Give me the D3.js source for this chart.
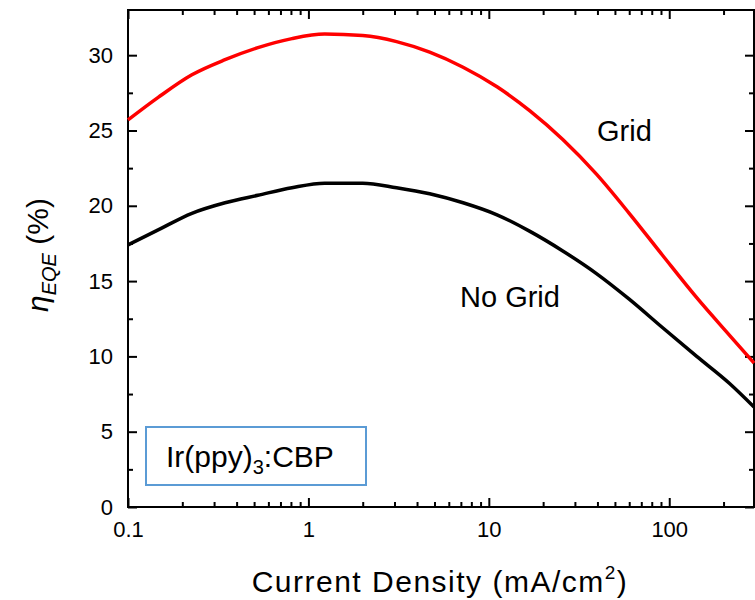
<!DOCTYPE html>
<head>
    <meta charset="utf-8">
    <title>EQE vs Current Density</title>
    <script src="https://d3js.org/d3.v7.min.js"></script>
    <style>
        body { margin: 0; background: #fff; }
        text { font-family: Arial, "Liberation Sans", sans-serif; fill: #000; }
    </style>
</head>
<body>
    <svg class="chart" width="755" height="600"></svg>
    <script>
        // values (current density in mA/cm2, EQE in %)
        var density = [0.1, 0.147, 0.226, 0.345, 0.525, 0.81, 1.23, 2.0, 3.08, 4.7, 7.2, 11.1, 16.9, 25.7, 39.5, 60, 92, 142, 216, 295];
        var gridEqe = [25.7, 27.2, 28.7, 29.7, 30.5, 31.1, 31.4, 31.3, 30.9, 30.2, 29.2, 27.9, 26.3, 24.4, 22.1, 19.5, 16.7, 13.9, 11.4, 9.56];
        var noGridEqe = [17.4, 18.4, 19.5, 20.2, 20.7, 21.2, 21.5, 21.5, 21.2, 20.8, 20.2, 19.4, 18.3, 17.0, 15.5, 13.8, 11.9, 10.0, 8.2, 6.64];
        var xMajor = [0.1, 1, 10, 100];
        var xTickLabels = ["0.1", "1", "10", "100"];
        var yMajor = [0, 5, 10, 15, 20, 25, 30];
        var yMinor = [2.5, 7.5, 12.5, 17.5, 22.5, 27.5];

        // plot box (window.top is read-only, so own names here)
        var plotLeft = 128, plotRight = 754, plotTop = 10, plotBottom = 507;
        var x = d3.scaleLog().domain([0.1, 295]).range([plotLeft, plotRight]);
        var y = d3.scaleLinear().domain([0, 33]).range([plotBottom, plotTop]);

        var xMinor = [];
        xMajor.forEach(function(d){
            for (var k = 2; k <= 9; k++) { if (k * d <= 295) xMinor.push(k * d); }
        });

        var svg = d3.select("svg");

        function styleAxis(g) {
            g.select(".domain").remove();
            g.selectAll("line").attr("stroke", "#000").attr("stroke-width", 2);
            g.selectAll("text").style("font-size", "22px").attr("fill", "#000");
        }

        // bottom axis
        svg.append("g").attr("transform", "translate(0," + plotBottom + ")")
            .call(d3.axisBottom(x).tickValues(xMajor).tickSize(-9).tickPadding(14)
                .tickFormat(function(d, i){ return xTickLabels[i]; }))
            .call(styleAxis);
        svg.append("g").attr("transform", "translate(0," + plotBottom + ")")
            .call(d3.axisBottom(x).tickValues(xMinor).tickSize(-5).tickFormat(""))
            .call(styleAxis);
        // top axis
        svg.append("g").attr("transform", "translate(0," + plotTop + ")")
            .call(d3.axisTop(x).tickValues(xMajor).tickSize(-9).tickFormat(""))
            .call(styleAxis);
        svg.append("g").attr("transform", "translate(0," + plotTop + ")")
            .call(d3.axisTop(x).tickValues(xMinor).tickSize(-5).tickFormat(""))
            .call(styleAxis);
        // left axis
        svg.append("g").attr("transform", "translate(" + plotLeft + ",0)")
            .call(d3.axisLeft(y).tickValues(yMajor).tickSize(-9).tickPadding(15))
            .call(styleAxis);
        svg.append("g").attr("transform", "translate(" + plotLeft + ",0)")
            .call(d3.axisLeft(y).tickValues(yMinor).tickSize(-5).tickFormat(""))
            .call(styleAxis);
        // right axis
        svg.append("g").attr("transform", "translate(" + plotRight + ",0)")
            .call(d3.axisRight(y).tickValues(yMajor).tickSize(-9).tickFormat(""))
            .call(styleAxis);
        svg.append("g").attr("transform", "translate(" + plotRight + ",0)")
            .call(d3.axisRight(y).tickValues(yMinor).tickSize(-5).tickFormat(""))
            .call(styleAxis);

        // frame
        svg.append("rect")
            .attr("x", plotLeft).attr("y", plotTop)
            .attr("width", plotRight - plotLeft).attr("height", plotBottom - plotTop)
            .attr("fill", "none").attr("stroke", "#000").attr("stroke-width", 2);

        // curves
        var line = d3.line()
            .x(function(d){ return x(d[0]); })
            .y(function(d){ return y(d[1]); })
            .curve(d3.curveMonotoneX);

        svg.append("path")
            .datum(density.map(function(d, i){ return [d, noGridEqe[i]]; }))
            .attr("d", line).attr("fill", "none")
            .attr("stroke", "#000").attr("stroke-width", 3.5);
        svg.append("path")
            .datum(density.map(function(d, i){ return [d, gridEqe[i]]; }))
            .attr("d", line).attr("fill", "none")
            .attr("stroke", "#ff0000").attr("stroke-width", 3.5);

        // curve labels
        svg.append("text").attr("x", 597).attr("y", 141)
            .style("font-size", "29px").text("Grid");
        svg.append("text").attr("x", 460).attr("y", 307)
            .style("font-size", "29px").text("No Grid");

        // sample box
        svg.append("rect")
            .attr("x", 146).attr("y", 427).attr("width", 220).attr("height", 58)
            .attr("fill", "#fff").attr("stroke", "#5b9bd5").attr("stroke-width", 2);
        var lab = svg.append("text").attr("x", 166).attr("y", 467).style("font-size", "30px");
        lab.append("tspan").text("Ir(ppy)");
        lab.append("tspan").attr("dy", 7).style("font-size", "20px").text("3");
        lab.append("tspan").attr("dy", -7).text(":CBP");

        // axis titles
        var xt = svg.append("text").attr("x", 440).attr("y", 592)
            .attr("text-anchor", "middle").style("font-size", "30px")
            .style("letter-spacing", "1.5px");
        xt.append("tspan").text("Current Density (mA/cm");
        xt.append("tspan").attr("dy", -13).style("font-size", "19px").text("2");
        xt.append("tspan").attr("dy", 13).text(")");

        var yt = svg.append("text")
            .attr("transform", "translate(48,255) rotate(-90)")
            .attr("text-anchor", "middle").style("font-size", "30px");
        yt.append("tspan").style("font-style", "italic").text("η");
        yt.append("tspan").attr("dy", 8).style("font-style", "italic").style("font-size", "20px").text("EQE");
        yt.append("tspan").attr("dy", -8).text(" (%)");
    </script>
</body>
